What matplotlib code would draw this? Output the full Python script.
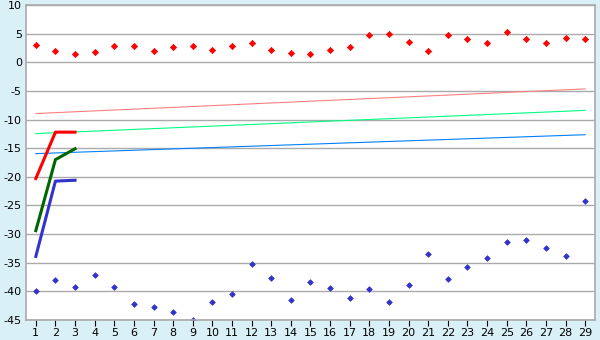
import matplotlib
matplotlib.use("Agg")
import matplotlib.pyplot as plt

days = list(range(1, 30))
red_pts = [3.0, 2.0, 1.5, 1.8, 2.9, 2.9, 2.0, 2.7, 2.9, 2.2,
           2.9, 3.3, 2.2, 1.7, 1.5, 2.2, 2.7, 4.7, 5.0, 3.6,
           2.0, 4.8, 4.1, 3.3, 5.2, 4.0, 3.4, 4.3, 4.1]
blue_pts = [-40.0, -38.0, -39.2, -37.1, -39.2, -42.2, -42.7, -43.6, -45.0, -41.8,
            -40.4, -35.2, -37.6, -41.5, -38.3, -39.4, -41.1, -39.6, -41.8, -38.9,
            -33.4, -37.8, -35.7, -34.1, -31.3, -31.0, -32.4, -33.8, -24.2]

trend_x = [1, 29]
pink_trend = [-8.95, -4.65]
green_trend = [-12.45, -8.4]
blue_trend = [-15.95, -12.65]

short_x = [1, 2, 3]
red_short = [-20.3, -12.2, -12.2]
green_short = [-29.4, -17.0, -15.1]
blue_short = [-33.9, -20.75, -20.6]

bg = "#d9f0f7"
fig = plt.figure(figsize=(6, 3.4), dpi=100, facecolor=bg)
ax = fig.add_axes([26/600, 1-320/340, (595-26)/600, (320-5)/340])
ax.set_facecolor("white")

ax.plot(trend_x, pink_trend, color="#ff8080", lw=0.8)
ax.plot(trend_x, green_trend, color="#00ff80", lw=0.8)
ax.plot(trend_x, blue_trend, color="#0080ff", lw=0.8)

ax.plot(short_x, red_short, color="#ff0000", lw=2.2)
ax.plot(short_x, green_short, color="#006600", lw=2.2)
ax.plot(short_x, blue_short, color="#3333cc", lw=2.2)

ax.plot(days, red_pts, ls="none", marker="D", ms=3.2, color="#ff0000", mec="#ff0000", mew=0.5)
ax.plot(days, blue_pts, ls="none", marker="D", ms=2.9, color="#3333cc", mec="#3333cc", mew=0.5)

ax.set_xlim(0.5, 29.5)
ax.set_ylim(-45, 10)
ax.set_yticks(range(-45, 11, 5))
ax.set_xticks(days)
ax.set_yticklabels([str(v) for v in range(-45, 11, 5)])
ax.grid(axis="y", color="#aaaaaa", lw=1)
ax.set_axisbelow(True)
for s in ax.spines.values():
    s.set_color("#aaaaaa")
    s.set_linewidth(1.2)
ax.tick_params(axis="y", length=0, labelsize=8, pad=3)
ax.tick_params(axis="x", length=4, color="black", labelsize=8, pad=2)

fig.savefig("out.png", dpi=100, facecolor=bg)
